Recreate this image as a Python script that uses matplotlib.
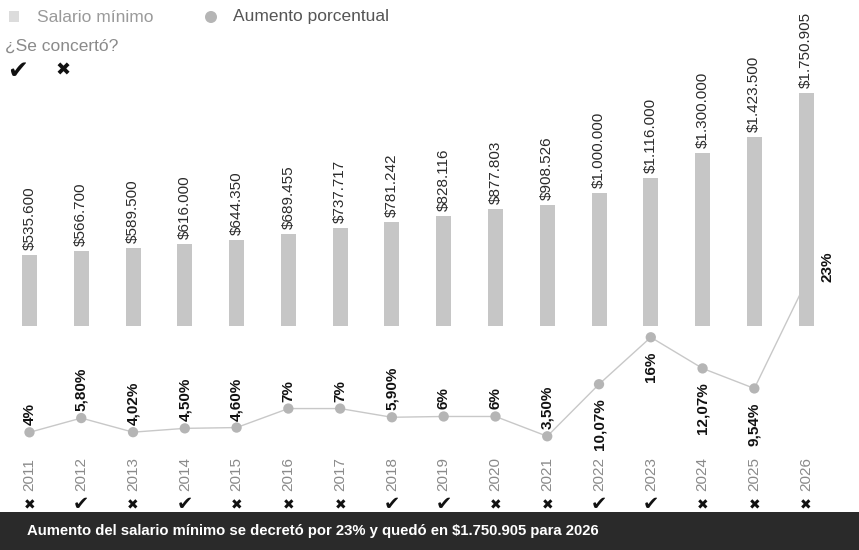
import matplotlib
matplotlib.use("Agg")
import matplotlib.pyplot as plt
from matplotlib.patches import Rectangle, Circle
from matplotlib.transforms import blended_transform_factory

# --- data -----------------------------------------------------------------
years = [2011, 2012, 2013, 2014, 2015, 2016, 2017, 2018,
         2019, 2020, 2021, 2022, 2023, 2024, 2025, 2026]
salario_minimo = [535600, 566700, 589500, 616000, 644350, 689455, 737717, 781242,
                  828116, 877803, 908526, 1000000, 1116000, 1300000, 1423500, 1750905]
aumento_pct = [4, 5.80, 4.02, 4.50, 4.60, 7, 7, 5.90,
               6, 6, 3.50, 10.07, 16, 12.07, 9.54, 23]
concertado = [False, True, False, True, False, False, False, True,
              True, False, False, True, True, False, False, False]

titulo_banner = "Aumento del salario mínimo se decretó por 23% y quedó en $1.750.905 para 2026"

# --- helpers --------------------------------------------------------------
W, H = 859, 550
FONT = ["Liberation Sans", "DejaVu Sans"]


def fmt_peso(v):
    return "$" + f"{v:,}".replace(",", ".")


def fmt_pct(v):
    if float(v).is_integer():
        return f"{int(v)}%"
    return f"{v:.2f}".replace(".", ",") + "%"


def px(v):
    """pixels -> points for annotation offsets"""
    return v * 72 / 100


fig = plt.figure(figsize=(W / 100, H / 100), dpi=100)
fig.patch.set_facecolor("white")

x_left, x_right = 3.6, 832.0
ax_l = x_left / W
ax_w = (x_right - x_left) / W

# bars: zero at y=326 px
bar_base = 326
bar_scale = 0.000133  # px per peso
ax_bar = fig.add_axes([ax_l, (H - bar_base) / H, ax_w, bar_base / H])
ax_bar.set_ylim(0, bar_base / bar_scale)

# line: zero at y=464 px
line_base = 464
line_scale = 7.92  # px per percentage point
ax_line = fig.add_axes([ax_l, (H - line_base) / H, ax_w, line_base / H])
ax_line.set_ylim(0, line_base / line_scale)

# overlay in pixel coordinates
ov = fig.add_axes([0, 0, 1, 1])
ov.set_xlim(0, W)
ov.set_ylim(H, 0)

for a in (ax_bar, ax_line, ov):
    a.axis("off")
    a.patch.set_visible(False)

xs = list(range(len(years)))
for a in (ax_bar, ax_line):
    a.set_xlim(-0.5, len(years) - 0.5)

ax_line.set_zorder(1)
ax_bar.set_zorder(2)
ov.set_zorder(3)

# --- bars -----------------------------------------------------------------
ax_bar.bar(xs, salario_minimo, width=0.29, color="#c6c6c6", edgecolor="none")
for x, v in zip(xs, salario_minimo):
    ax_bar.annotate(fmt_peso(v), (x, v), xytext=(0, px(5)), textcoords="offset points",
                    rotation=90, ha="center", va="bottom", fontsize=11,
                    family=FONT, color="#2b2b2b")

# --- percentage line ------------------------------------------------------
ax_line.plot(xs, aumento_pct, color="#c8c8c8", lw=1.0, zorder=1)
ax_line.scatter(xs, aumento_pct, s=55, color="#b5b5b5", edgecolor="none", zorder=2)

last = len(xs) - 1
for i, (x, v) in enumerate(zip(xs, aumento_pct)):
    kw = dict(rotation=90, fontsize=11, fontweight="bold", family=FONT,
              color="#111111", textcoords="offset points")
    if i == last:
        ax_line.annotate(fmt_pct(v), (x, v), xytext=(px(21), 0), ha="center", va="bottom", **kw)
    elif v > 9:
        ax_line.annotate(fmt_pct(v), (x, v), xytext=(0, -px(14)), ha="center", va="top", **kw)
    else:
        ax_line.annotate(fmt_pct(v), (x, v), xytext=(0, px(7)), ha="center", va="bottom", **kw)

# --- year labels and agreement marks -------------------------------------
tr = blended_transform_factory(ax_bar.transData, ov.transData)
for x, y, ok in zip(xs, years, concertado):
    ov.text(x, 491, str(y), transform=tr, rotation=90, ha="center", va="bottom",
            fontsize=11, family=FONT, color="#8a8a8a")
    ov.text(x, 505, "\u2714" if ok else "\u2716", transform=tr, ha="center", va="center",
            fontsize=14 if ok else 10, family="DejaVu Sans", color="#111111")

# --- legend ---------------------------------------------------------------
ov.add_patch(Rectangle((9, 11), 10, 11, facecolor="#dcdcdc", edgecolor="none"))
ov.text(37, 17, "Salario mínimo", ha="left", va="center", fontsize=12.5,
        family=FONT, color="#9a9a9a")
ov.add_patch(Circle((211, 17), 6, facecolor="#b5b5b5", edgecolor="none"))
ov.text(233, 17, "Aumento porcentual", ha="left", va="center", fontsize=12.5,
        family=FONT, color="#555555")
ov.text(5, 46, "¿Se concertó?", ha="left", va="center", fontsize=12.5,
        family=FONT, color="#8a8a8a")
ov.text(18, 71, "\u2714", ha="center", va="center", fontsize=18,
        family="DejaVu Sans", color="#111111")
ov.text(63, 71, "\u2716", ha="center", va="center", fontsize=13,
        family="DejaVu Sans", color="#111111")

# --- bottom banner --------------------------------------------------------
ov.add_patch(Rectangle((0, 512), W, H - 512, facecolor="#2a2a2a", edgecolor="none"))
ov.text(27, 531, titulo_banner, ha="left", va="center", fontsize=10.7,
        fontweight="bold", family=FONT, color="white")

fig.savefig("out.png", dpi=100)
